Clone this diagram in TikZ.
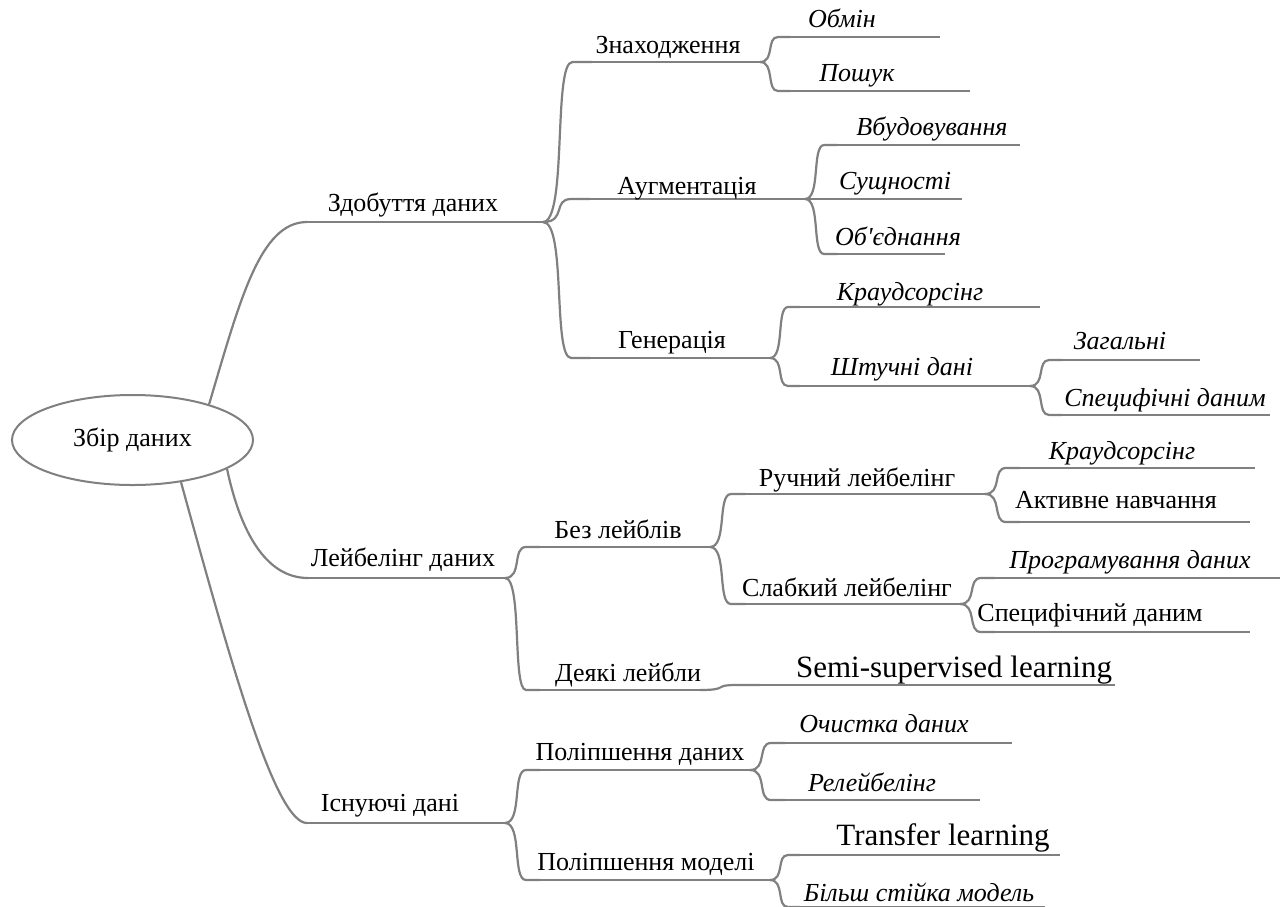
\documentclass[tikz,border=0pt]{standalone}
\usepackage{fontspec}
\setmainfont{Liberation Serif}
\usetikzlibrary{calc,shapes.geometric}
\definecolor{linegray}{RGB}{128,128,128}
\tikzset{
  conn/.style={draw=linegray, line width=2.2pt},
  under/.style={draw=linegray, line width=2.2pt},
  lab/.style={anchor=base, inner sep=0pt, font=\fontsize{26}{30}\selectfont},
  ilab/.style={anchor=base, inner sep=0pt, font=\fontsize{26}{30}\selectfont\itshape},
  big/.style={anchor=base, inner sep=0pt, font=\fontsize{31}{36}\selectfont},
  rootnode/.style={ellipse, draw=linegray, line width=2pt, minimum width=241pt, minimum height=90pt, inner sep=0pt, font=\fontsize{26}{30}\selectfont}
}
% style, name, xL, xR, yline, tx, tbase, text
\newcommand\mmitem[8]{%
  \coordinate (#2L) at (#3,#5);
  \coordinate (#2R) at (#4,#5);
  \draw[under] (#2L) -- (#2R);
  \node[#1] (#2) at (#6,#7) {#8};}
\newcommand\mmconn[2]{%
  \draw[conn] let \p1=(#1), \p2=(#2), \n1={\x2-\x1} in
    (#1) .. controls (\x1+0.5*\n1,\y1) and (\x1+0.2*\n1,\y2) .. (\x1+0.6*\n1,\y2) -- (#2);}
\begin{document}
\begin{tikzpicture}[x=1pt,y=-1pt]
\fill[white] (0,0) rectangle (1285,906);
\useasboundingbox (0,0) rectangle (1285,906);

\node[rootnode] (root) at (132.5,440) {Збір даних};

% level 1
\mmitem{lab}{zdob}{307}{543}{222}{413}{211}{Здобуття даних}
\mmitem{lab}{leib}{308}{505}{578}{403}{566}{Лейбелінг даних}
\mmitem{lab}{isn}{307}{505}{823}{390}{811}{Існуючі дані}

\draw[conn] (root.25) .. controls (240,300) and (260,222) .. (zdobL);
\draw[conn] (root.-17) .. controls (240,530) and (265,578) .. (leibL);
\draw[conn] (root.-41) .. controls (230,660) and (275,823) .. (isnL);

% Здобуття даних
\mmitem{lab}{znah}{592}{760}{62}{668}{53}{Знаходження}
\mmitem{lab}{aug}{590}{805}{199}{687}{194}{Аугментація}
\mmitem{lab}{gen}{590}{770}{358}{672}{348}{Генерація}
\mmconn{zdobR}{znahL}
\mmconn{zdobR}{augL}
\mmconn{zdobR}{genL}

\mmitem{ilab}{obmin}{790}{940}{37}{842}{27}{Обмін}
\mmitem{ilab}{poshuk}{790}{970}{91}{857}{81}{Пошук}
\mmconn{znahR}{obminL}
\mmconn{znahR}{poshukL}

\mmitem{ilab}{vbud}{837}{1020}{145}{932}{135}{Вбудовування}
\mmitem{ilab}{sush}{840}{962}{199}{895}{189}{Сущності}
\mmitem{ilab}{obyed}{837}{945}{254}{898}{245}{Об\textquotesingle єднання}
\mmconn{augR}{vbudL}
\mmconn{augR}{sushL}
\mmconn{augR}{obyedL}

\mmitem{ilab}{kraudA}{800}{1040}{307}{910}{300}{Краудсорсінг}
\mmitem{ilab}{shtuch}{800}{1030}{386}{902}{375}{Штучні дані}
\mmconn{genR}{kraudAL}
\mmconn{genR}{shtuchL}

\mmitem{ilab}{zagal}{1062}{1200}{360}{1120}{349}{Загальні}
\mmitem{ilab}{specA}{1062}{1270}{415}{1165}{406}{Специфічні даним}
\mmconn{shtuchR}{zagalL}
\mmconn{shtuchR}{specAL}

% Лейбелінг даних
\mmitem{lab}{bez}{540}{710}{547}{618}{538}{Без лейблів}
\mmitem{lab}{deyaki}{540}{700}{690}{628}{681}{Деякі лейбли}
\mmconn{leibR}{bezL}
\mmconn{leibR}{deyakiL}

\mmitem{big}{semi}{760}{1115}{685}{954}{677}{Semi-supervised learning}
\mmconn{deyakiR}{semiL}

\mmitem{lab}{ruchn}{745}{985}{494}{857}{486}{Ручний лейбелінг}
\mmitem{lab}{slab}{745}{960}{604}{847}{596}{Слабкий лейбелінг}
\mmconn{bezR}{ruchnL}
\mmconn{bezR}{slabL}

\mmitem{ilab}{kraudB}{1020}{1255}{468}{1122}{459}{Краудсорсінг}
\mmitem{lab}{aktyv}{1020}{1250}{522}{1116}{508}{Активне навчання}
\mmconn{ruchnR}{kraudBL}
\mmconn{ruchnR}{aktyvL}

\mmitem{ilab}{prog}{995}{1280}{578}{1130}{568}{Програмування даних}
\mmitem{lab}{specB}{995}{1250}{632}{1090}{621}{Специфічний даним}
\mmconn{slabR}{progL}
\mmconn{slabR}{specBL}

% Існуючі дані
\mmitem{lab}{polda}{540}{750}{770}{640}{760}{Поліпшення даних}
\mmitem{lab}{polmod}{540}{770}{880}{646}{870}{Поліпшення моделі}
\mmconn{isnR}{poldaL}
\mmconn{isnR}{polmodL}

\mmitem{ilab}{ochys}{785}{1012}{743}{884}{732}{Очистка даних}
\mmitem{ilab}{releib}{785}{980}{800}{872}{791}{Релейбелінг}
\mmconn{poldaR}{ochysL}
\mmconn{poldaR}{releibL}

\mmitem{big}{transfer}{800}{1060}{855}{943}{845}{Transfer learning}
\mmitem{ilab}{bilsh}{800}{1045}{907}{919}{901}{Більш стійка модель}
\mmconn{polmodR}{transferL}
\mmconn{polmodR}{bilshL}
\end{tikzpicture}
\end{document}
